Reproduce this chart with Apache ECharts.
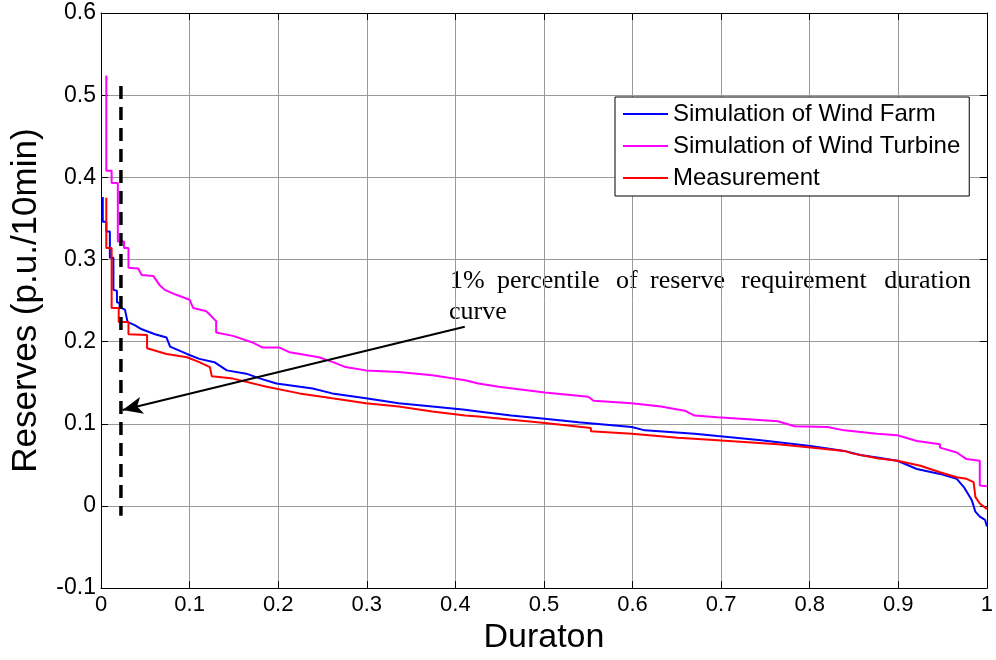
<!DOCTYPE html>
<html>
<head>
<meta charset="utf-8">
<script src="https://cdn.jsdelivr.net/npm/echarts@6/dist/echarts.min.js"></script>
<style>
html,body{margin:0;padding:0;background:#fff;}
#chart{width:996px;height:660px;}
</style>
</head>
<body>
<div id="chart"></div>
<script>
// ---- data ----
var seriesNames = ['Simulation of Wind Farm', 'Simulation of Wind Turbine', 'Measurement'];

var windFarm = [[0.002,0.376],[0.002,0.346],[0.006,0.346],[0.006,0.334],[0.010,0.334],[0.010,0.302],[0.014,0.302],[0.014,0.263],[0.018,0.262],[0.018,0.248],[0.021,0.247],[0.021,0.242],[0.027,0.239],[0.030,0.224],[0.038,0.220],[0.046,0.215],[0.061,0.209],[0.074,0.205],[0.078,0.194],[0.097,0.185],[0.111,0.179],[0.128,0.175],[0.142,0.165],[0.164,0.161],[0.180,0.155],[0.198,0.149],[0.239,0.143],[0.261,0.137],[0.299,0.131],[0.336,0.125],[0.374,0.121],[0.411,0.117],[0.426,0.115],[0.463,0.110],[0.501,0.106],[0.539,0.102],[0.599,0.096],[0.614,0.092],[0.670,0.088],[0.696,0.085],[0.745,0.080],[0.801,0.073],[0.839,0.067],[0.857,0.062],[0.876,0.059],[0.899,0.055],[0.921,0.045],[0.947,0.039],[0.966,0.033],[0.974,0.023],[0.983,0.007],[0.987,-0.007],[0.992,-0.013],[0.998,-0.017],[1.0,-0.025]];

var windTurbine = [[0.006,0.524],[0.006,0.408],[0.012,0.408],[0.012,0.393],[0.019,0.393],[0.019,0.322],[0.026,0.322],[0.026,0.314],[0.031,0.314],[0.031,0.290],[0.042,0.289],[0.046,0.281],[0.059,0.280],[0.066,0.269],[0.072,0.263],[0.085,0.257],[0.100,0.251],[0.104,0.241],[0.119,0.237],[0.130,0.225],[0.130,0.211],[0.149,0.207],[0.171,0.199],[0.182,0.193],[0.201,0.193],[0.213,0.187],[0.246,0.181],[0.262,0.175],[0.276,0.169],[0.299,0.165],[0.336,0.163],[0.374,0.159],[0.411,0.153],[0.426,0.149],[0.449,0.145],[0.501,0.138],[0.550,0.133],[0.556,0.128],[0.599,0.125],[0.632,0.121],[0.659,0.116],[0.670,0.110],[0.696,0.108],[0.764,0.103],[0.783,0.097],[0.820,0.096],[0.839,0.092],[0.876,0.088],[0.899,0.086],[0.921,0.079],[0.947,0.075],[0.947,0.071],[0.966,0.065],[0.977,0.057],[0.992,0.055],[0.992,0.025],[1.0,0.024]];

var measurement = [[0.006,0.375],[0.006,0.314],[0.012,0.314],[0.012,0.241],[0.020,0.241],[0.020,0.224],[0.031,0.224],[0.031,0.209],[0.052,0.208],[0.052,0.192],[0.074,0.185],[0.097,0.181],[0.111,0.175],[0.123,0.169],[0.125,0.158],[0.149,0.155],[0.187,0.145],[0.224,0.137],[0.261,0.131],[0.299,0.125],[0.336,0.121],[0.374,0.115],[0.411,0.110],[0.426,0.109],[0.501,0.101],[0.553,0.095],[0.553,0.091],[0.599,0.088],[0.651,0.083],[0.696,0.080],[0.764,0.075],[0.801,0.071],[0.839,0.067],[0.848,0.064],[0.876,0.058],[0.899,0.055],[0.925,0.049],[0.947,0.041],[0.966,0.035],[0.977,0.033],[0.985,0.029],[0.987,0.011],[0.992,0.003],[0.998,-0.002],[1.0,-0.004]];

var percentileLine = [[0.0225,0.511],[0.0225,-0.012]];
var arrowStart = [0.4106,0.218];
var arrowEnd = [0.0244,0.1167];

var xTicks = {min:0, max:1, interval:0.1};
var yTicks = {min:-0.1, max:0.6, interval:0.1};
var xAxisTitle = 'Duraton';
var yAxisTitle = 'Reserves (p.u./10min)';
var annotationLine1 = ['1%', 'percentile', 'of', 'reserve', 'requirement', 'duration'];
var annotationLine2 = 'curve';

// ---- chart ----
var chart = echarts.init(document.getElementById('chart'), null, {renderer:'canvas'});
var sans = '"Liberation Sans", Arial, sans-serif';
var serif = '"Liberation Serif", "Times New Roman", serif';

function baseAxis(o){
  return Object.assign({
    type:'value',
    axisLine:{show:true, onZero:false, lineStyle:{color:'#000', width:1}},
    axisTick:{show:true, inside:true, length:7, lineStyle:{color:'#000'}},
    splitLine:{show:false},
    axisLabel:{show:false}
  }, o);
}

var wordX = [450, 497, 616, 650, 741];
var graphics = [];
for (var i = 0; i < annotationLine1.length; i++) {
  var last = (i === annotationLine1.length - 1);
  graphics.push({
    type:'text', silent:true,
    style:{text:annotationLine1[i], x: last ? 971 : wordX[i], y:281,
      textAlign: last ? 'right' : 'left', textVerticalAlign:'middle',
      font:'26px ' + serif, fill:'#000'}
  });
}
graphics.push({type:'text', silent:true,
  style:{text:annotationLine2, x:449, y:312, textAlign:'left', textVerticalAlign:'middle',
    font:'26px ' + serif, fill:'#000'}});

var option = {
  animation:false,
  backgroundColor:'#fff',
  grid:{left:101, right:6, top:13, bottom:63, show:false},
  legend:{
    data:seriesNames.map(function(n){return {name:n, icon:'rect'};}),
    orient:'vertical', left:615, top:97,
    itemWidth:45, itemHeight:2, itemGap:8,
    padding:[5,9,6,8],
    borderColor:'#000', borderWidth:1, backgroundColor:'#fff',
    textStyle:{fontFamily:sans, fontSize:24, color:'#000', lineHeight:24},
    selectedMode:false
  },
  xAxis:[
    baseAxis({min:xTicks.min, max:xTicks.max, interval:xTicks.interval, position:'bottom',
      splitLine:{show:true, lineStyle:{color:'#9a9a9a', width:1}},
      axisLabel:{show:true, margin:6, fontFamily:sans, fontSize:22, color:'#000',
        formatter:function(v){return String(Math.round(v*10)/10);}},
      name:xAxisTitle, nameLocation:'middle', nameGap:26,
      nameTextStyle:{fontFamily:sans, fontSize:34, color:'#000'}
    }),
    baseAxis({min:xTicks.min, max:xTicks.max, interval:xTicks.interval, position:'top'})
  ],
  yAxis:[
    baseAxis({min:yTicks.min, max:yTicks.max, interval:yTicks.interval, position:'left',
      splitLine:{show:true, lineStyle:{color:'#9a9a9a', width:1}},
      axisLabel:{show:true, margin:5, fontFamily:sans, fontSize:23, color:'#000',
        formatter:function(v){return String(Math.round(v*10)/10);}},
      name:yAxisTitle, nameLocation:'middle', nameGap:57, nameRotate:90,
      nameTextStyle:{fontFamily:sans, fontSize:35, color:'#000'}
    }),
    baseAxis({min:yTicks.min, max:yTicks.max, interval:yTicks.interval, position:'right'})
  ],
  series:[
    {name:seriesNames[0], type:'line', data:windFarm, showSymbol:false, symbol:'none',
      lineStyle:{color:'#0000ff', width:2}, itemStyle:{color:'#0000ff'}},
    {name:seriesNames[1], type:'line', data:windTurbine, showSymbol:false, symbol:'none',
      lineStyle:{color:'#ff00ff', width:2}, itemStyle:{color:'#ff00ff'}},
    {name:seriesNames[2], type:'line', data:measurement, showSymbol:false, symbol:'none',
      lineStyle:{color:'#ff0000', width:2}, itemStyle:{color:'#ff0000'}},
    {name:'percentile', type:'line', data:percentileLine, showSymbol:false, symbol:'none', silent:true,
      lineStyle:{color:'#000', width:3.5, type:[13,8]}, z:5,
      markLine:{silent:true, symbol:['none','arrow'], symbolSize:[13,20],
        label:{show:false},
        lineStyle:{color:'#000', width:2, type:'solid'},
        data:[[{coord:arrowStart},{coord:arrowEnd}]]}
    }
  ],
  graphic:graphics
};
chart.setOption(option);
</script>
</body>
</html>
